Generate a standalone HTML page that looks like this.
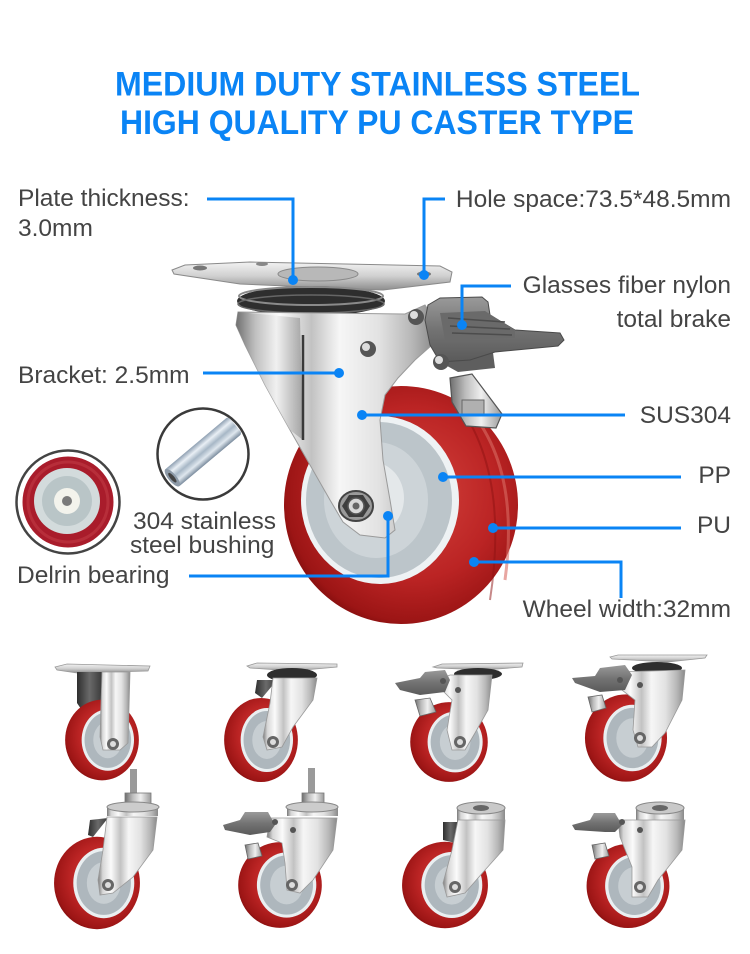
<!DOCTYPE html>
<html><head><meta charset="utf-8"><style>
html,body{margin:0;padding:0;background:#fff;}
svg{display:block;}
</style></head><body>
<svg width="750" height="954" viewBox="0 0 750 954" xmlns="http://www.w3.org/2000/svg">
<defs>
<linearGradient id="st" x1="0" y1="0" x2="1" y2="0">
<stop offset="0" stop-color="#7a7a7a"/><stop offset="0.08" stop-color="#d6d6d6"/><stop offset="0.22" stop-color="#fbfbfb"/><stop offset="0.38" stop-color="#c2c2c2"/><stop offset="0.52" stop-color="#f6f6f6"/><stop offset="0.72" stop-color="#e2e2e2"/><stop offset="0.88" stop-color="#b8b8b8"/><stop offset="1" stop-color="#8a8a8a"/>
</linearGradient>
<linearGradient id="stl" x1="0" y1="0" x2="1" y2="0">
<stop offset="0" stop-color="#6e6e6e"/><stop offset="0.3" stop-color="#bdbdbd"/><stop offset="0.6" stop-color="#efefef"/><stop offset="1" stop-color="#9a9a9a"/>
</linearGradient>
<linearGradient id="dk" x1="0" y1="0" x2="1" y2="0">
<stop offset="0" stop-color="#2e2e2e"/><stop offset="0.5" stop-color="#6a6a6a"/><stop offset="1" stop-color="#3a3a3a"/>
</linearGradient>
<linearGradient id="pl" x1="0" y1="0" x2="0" y2="1">
<stop offset="0" stop-color="#f2f2f2"/><stop offset="0.5" stop-color="#d0d0d0"/><stop offset="1" stop-color="#8e8e8e"/>
</linearGradient>
<radialGradient id="rd" cx="0.55" cy="0.45" r="0.6">
<stop offset="0" stop-color="#d4433d"/><stop offset="0.6" stop-color="#bb2424"/><stop offset="0.9" stop-color="#9c1515"/><stop offset="1" stop-color="#780b0b"/>
</radialGradient>
<linearGradient id="gr" x1="0" y1="0" x2="0" y2="1">
<stop offset="0" stop-color="#9a9a9a"/><stop offset="0.5" stop-color="#737373"/><stop offset="1" stop-color="#5a5a5a"/>
</linearGradient>
<linearGradient id="tube" x1="0" y1="0" x2="0" y2="1">
<stop offset="0" stop-color="#8fa0b2"/><stop offset="0.25" stop-color="#e9eff5"/><stop offset="0.5" stop-color="#a7b7c6"/><stop offset="0.75" stop-color="#dfe7ee"/><stop offset="1" stop-color="#7b8c9e"/>
</linearGradient>
<g id="sw">
<ellipse cx="0" cy="0" rx="38" ry="42" fill="url(#rd)"/>
<ellipse cx="6" cy="0" rx="27" ry="32" fill="#eaeff1"/>
<ellipse cx="6" cy="0" rx="24" ry="29" fill="#aeb7bd"/>
<ellipse cx="6" cy="0" rx="15" ry="19" fill="#c7ced2"/>
</g>
</defs>

<rect width="750" height="954" fill="#fff"/>

<!-- Title -->
<text x="115" y="95.5" font-family="Liberation Sans, Arial, sans-serif" font-weight="bold" font-size="34" fill="#0a84f5" textLength="525" lengthAdjust="spacingAndGlyphs">MEDIUM DUTY STAINLESS STEEL</text>
<text x="120" y="134" font-family="Liberation Sans, Arial, sans-serif" font-weight="bold" font-size="34" fill="#0a84f5" textLength="514" lengthAdjust="spacingAndGlyphs">HIGH QUALITY PU CASTER TYPE</text>

<!-- ===== Main caster ===== -->
<!-- plate -->
<polygon points="172,270 185,265 250,262 440,266 452,272 450,282 383,290 240,284 174,274" fill="url(#pl)" stroke="#8a8a8a" stroke-width="1"/>
<ellipse cx="200" cy="268" rx="7" ry="2.5" fill="#777"/>
<ellipse cx="262" cy="264" rx="6" ry="2" fill="#888"/>
<ellipse cx="424" cy="274" rx="7" ry="2.5" fill="#777"/>
<ellipse cx="318" cy="274" rx="40" ry="7" fill="#b8b8b8" stroke="#888"/>
<!-- swivel ring -->
<ellipse cx="311" cy="301" rx="74" ry="15" fill="#2e2e2e"/>
<ellipse cx="311" cy="296" rx="72" ry="9" fill="none" stroke="#8a8a8a" stroke-width="2"/>
<ellipse cx="311" cy="304" rx="73" ry="9" fill="none" stroke="#666" stroke-width="1.5"/>

<!-- wheel -->
<ellipse cx="401" cy="505" rx="117" ry="119" fill="url(#rd)"/>
<path d="M470,410 Q520,470 505,580" fill="none" stroke="#d86a62" stroke-width="3" opacity="0.6"/>
<path d="M455,400 Q510,470 490,600" fill="none" stroke="#8e1212" stroke-width="2" opacity="0.5"/>
<ellipse cx="380" cy="500" rx="79" ry="84" fill="#eef2f4"/>
<ellipse cx="379" cy="500" rx="73" ry="78" fill="#bcc5ca"/>
<ellipse cx="376" cy="500" rx="52" ry="58" fill="#cdd4d8"/>
<ellipse cx="372" cy="498" rx="32" ry="36" fill="#e4e8ea"/>

<!-- brake tab -->
<polygon points="450,378 472,374 502,414 496,428 466,426 452,402" fill="url(#stl)" stroke="#555" stroke-width="1.2"/>
<rect x="462" y="400" width="22" height="14" fill="#b0b0b0" stroke="#666" stroke-width="1"/>

<!-- bracket -->
<polygon points="238,312 405,314 425,305 435,320 432,345 415,360 398,378 385,395 380,420 383,460 390,500 395,530 385,538 360,535 343,522 330,500 310,465 290,430 265,385 245,345 236,325" fill="url(#st)" stroke="#9a9a9a" stroke-width="1"/>
<polygon points="238,312 300,318 303,440 290,430 265,385 245,345 236,325" fill="url(#stl)" opacity="0.85"/>
<line x1="303" y1="335" x2="303" y2="440" stroke="#3a3a3a" stroke-width="2.5"/>
<!-- nut -->
<ellipse cx="356" cy="506" rx="17" ry="15" fill="#9a9a9a" stroke="#444" stroke-width="2"/>
<polygon points="349,495 363,495 370,506 363,517 349,517 342,506" fill="#3e3e3e"/>
<circle cx="356" cy="506" r="8" fill="#d9d9d9" stroke="#555" stroke-width="1.5"/>
<circle cx="356" cy="506" r="3.5" fill="#666"/>

<!-- brake pedal -->
<polygon points="435,340 492,345 495,368 458,372 440,362" fill="#5e5e5e"/>
<polygon points="428,305 440,298 482,297 488,302 490,315 515,330 560,333 564,340 558,346 495,352 470,360 440,362 430,345 425,320" fill="url(#gr)" stroke="#4a4a4a" stroke-width="1"/>
<polygon points="440,313 485,311 515,330 515,338 445,340" fill="#6a6a6a"/>
<line x1="448" y1="318" x2="505" y2="322" stroke="#4c4c4c" stroke-width="1.5"/>
<line x1="450" y1="326" x2="510" y2="329" stroke="#4c4c4c" stroke-width="1.5"/>
<line x1="452" y1="333" x2="512" y2="335" stroke="#4c4c4c" stroke-width="1.5"/>

<!-- rivets -->
<circle cx="368" cy="349" r="8" fill="#555"/><circle cx="366" cy="347" r="4" fill="#ddd"/>
<circle cx="416" cy="317" r="8" fill="#555"/><circle cx="414" cy="315" r="4" fill="#ddd"/>
<circle cx="441" cy="362" r="8" fill="#555"/><circle cx="439" cy="360" r="4" fill="#ddd"/>

<!-- ===== Insets ===== -->
<circle cx="68" cy="502" r="51.5" fill="#fff" stroke="#444" stroke-width="2.5"/>
<circle cx="68" cy="502" r="45.5" fill="#a91c2b"/>
<circle cx="68" cy="502" r="40" fill="none" stroke="#c23a45" stroke-width="3" opacity="0.6"/>
<circle cx="67" cy="501" r="33" fill="#d3dbdc"/>
<circle cx="67" cy="501" r="25" fill="#b9c5c7"/>
<circle cx="67" cy="501" r="13" fill="#f3f3ec"/>
<circle cx="67" cy="501" r="5" fill="#7a7a7a"/>

<circle cx="203" cy="454" r="45.5" fill="#fff" stroke="#3a3a3a" stroke-width="2.5"/>
<g transform="rotate(-40 203 452)">
<rect x="161" y="441" width="84" height="22" rx="3" fill="url(#tube)"/>
<ellipse cx="163" cy="452" rx="4" ry="11" fill="#8d9aa8"/>
<ellipse cx="163" cy="452" rx="2" ry="6" fill="#444"/>
</g>

<!-- ===== Connectors ===== -->
<g fill="none" stroke="#0a84f5" stroke-width="3">
<path d="M207,199 H293 V280"/>
<path d="M445,199 H424 V275"/>
<path d="M511,286 H462 V325"/>
<path d="M203,373 H339"/>
<path d="M362,415 H625"/>
<path d="M443,477 H681"/>
<path d="M493,528 H681"/>
<path d="M474,562 H621 V598"/>
<path d="M189,576 H388 V516"/>
</g>
<g fill="#0a84f5">
<circle cx="293" cy="280" r="5"/>
<circle cx="424" cy="275" r="5"/>
<circle cx="462" cy="325" r="5"/>
<circle cx="339" cy="373" r="5"/>
<circle cx="362" cy="415" r="5"/>
<circle cx="443" cy="477" r="5"/>
<circle cx="493" cy="528" r="5"/>
<circle cx="474" cy="562" r="5"/>
<circle cx="388" cy="516" r="5"/>
</g>

<!-- ===== Labels ===== -->
<g font-family="Liberation Sans, Arial, sans-serif" font-size="24.5" fill="#444">
<text x="18" y="206">Plate thickness:</text>
<text x="18" y="236">3.0mm</text>
<text x="731" y="207" text-anchor="end">Hole space:73.5*48.5mm</text>
<text x="731" y="293" text-anchor="end">Glasses fiber nylon</text>
<text x="731" y="327" text-anchor="end">total brake</text>
<text x="18" y="383">Bracket: 2.5mm</text>
<text x="731" y="423" text-anchor="end">SUS304</text>
<text x="731" y="483" text-anchor="end">PP</text>
<text x="731" y="533" text-anchor="end">PU</text>
<text x="731" y="617" text-anchor="end">Wheel width:32mm</text>
<text x="133" y="529">304 stainless</text>
<text x="130" y="553">steel bushing</text>
<text x="17" y="583">Delrin bearing</text>
</g>

<!-- ===== Small casters ===== -->
<!-- 1 rigid -->
<polygon points="55,667 67,664 150,666 148,671 77,673 57,670" fill="url(#pl)" stroke="#999" stroke-width="0.8"/>
<polygon points="77,672 102,672 100,733 85,715 77,703" fill="url(#dk)"/>
<use href="#sw" transform="translate(102,740) scale(0.97,0.96)"/>
<polygon points="102,672 130,672 128,743 120,750 103,750 100,737" fill="url(#st)" stroke="#999" stroke-width="0.8"/>
<circle cx="113" cy="744" r="6" fill="#666"/><circle cx="113" cy="744" r="3" fill="#ddd"/>

<!-- 2 swivel -->
<polygon points="247,666 257,663 337,664 337,667 293,671 250,668" fill="url(#pl)" stroke="#999" stroke-width="0.8"/>
<ellipse cx="292" cy="675" rx="25" ry="7" fill="#2e2e2e"/>
<polygon points="257,680 277,680 262,698 255,693" fill="url(#dk)"/>
<use href="#sw" transform="translate(261,740) scale(0.97,1)"/>
<polygon points="273,678 317,678 313,700 293,727 282,747 267,750 263,737 270,703" fill="url(#st)" stroke="#999" stroke-width="0.8"/>
<circle cx="273" cy="742" r="6" fill="#666"/><circle cx="273" cy="742" r="3" fill="#ddd"/>

<!-- 3 swivel brake -->
<polygon points="433,667 442,664 523,663 522,667 485,670 437,668" fill="url(#pl)" stroke="#999" stroke-width="0.8"/>
<ellipse cx="478" cy="674" rx="24" ry="6" fill="#2e2e2e"/>
<use href="#sw" transform="translate(449,742) scale(1.02,0.95)"/>
<polygon points="415,700 430,698 436,712 420,716" fill="url(#stl)" stroke="#666" stroke-width="0.8"/>
<polygon points="438,680 450,675 492,675 488,710 475,733 465,750 452,750 447,730 452,700 442,690" fill="url(#st)" stroke="#999" stroke-width="0.8"/>
<polygon points="395,683 420,678 425,672 445,670 450,680 445,692 420,695 400,690" fill="url(#gr)"/>
<circle cx="443" cy="681" r="3" fill="#555"/><circle cx="458" cy="690" r="3" fill="#555"/>
<circle cx="460" cy="742" r="6" fill="#666"/><circle cx="460" cy="742" r="3" fill="#ddd"/>

<!-- 4 swivel total brake -->
<polygon points="610,657 618,655 707,655 705,658 668,662 612,659" fill="url(#pl)" stroke="#999" stroke-width="0.8"/>
<ellipse cx="657" cy="668" rx="25" ry="6" fill="#2e2e2e"/>
<use href="#sw" transform="translate(626,738) scale(1.08,1.04)"/>
<polygon points="588,697 602,695 606,708 592,712" fill="url(#stl)" stroke="#666" stroke-width="0.8"/>
<polygon points="615,672 685,670 682,700 665,733 652,747 638,747 633,730 635,700 618,687" fill="url(#st)" stroke="#999" stroke-width="0.8"/>
<polygon points="572,678 595,676 600,668 625,665 632,675 625,690 600,692 575,683" fill="url(#gr)"/>
<circle cx="620" cy="680" r="3" fill="#555"/><circle cx="640" cy="685" r="3" fill="#555"/>
<circle cx="640" cy="738" r="6" fill="#666"/><circle cx="640" cy="738" r="3" fill="#ddd"/>

<!-- 5 threaded stem -->
<rect x="130" y="769" width="7" height="25" fill="#9a9a9a"/>
<rect x="125" y="793" width="26" height="12" fill="url(#stl)" stroke="#777" stroke-width="0.8"/>
<rect x="107" y="806" width="51" height="10" fill="url(#st)"/>
<ellipse cx="133" cy="807" rx="26" ry="5" fill="#ccc" stroke="#888"/>
<polygon points="90,820 108,818 93,837 88,835" fill="url(#dk)"/>
<use href="#sw" transform="translate(97,883) scale(1.13,1.1)"/>
<polygon points="107,817 157,817 153,850 133,877 113,893 100,895 98,880 103,850" fill="url(#st)" stroke="#999" stroke-width="0.8"/>
<circle cx="108" cy="885" r="6" fill="#666"/><circle cx="108" cy="885" r="3" fill="#ddd"/>

<!-- 6 threaded stem brake -->
<rect x="308" y="768" width="7" height="25" fill="#9a9a9a"/>
<rect x="302" y="793" width="22" height="12" fill="url(#stl)" stroke="#777" stroke-width="0.8"/>
<rect x="287" y="806" width="51" height="10" fill="url(#st)"/>
<ellipse cx="312" cy="807" rx="26" ry="5" fill="#ccc" stroke="#888"/>
<use href="#sw" transform="translate(280,885) scale(1.1,1.02)"/>
<polygon points="245,845 258,843 262,856 248,859" fill="url(#stl)" stroke="#666" stroke-width="0.8"/>
<polygon points="270,818 337,818 333,850 313,880 300,893 287,890 285,863 282,843 267,837" fill="url(#st)" stroke="#999" stroke-width="0.8"/>
<polygon points="223,825 240,820 245,812 268,812 275,825 270,832 250,835 225,830" fill="url(#gr)"/>
<circle cx="275" cy="822" r="3" fill="#555"/><circle cx="293" cy="830" r="3" fill="#555"/>
<circle cx="292" cy="885" r="6" fill="#666"/><circle cx="292" cy="885" r="3" fill="#ddd"/>

<!-- 7 hollow kingpin -->
<rect x="457" y="808" width="48" height="14" fill="url(#st)"/>
<ellipse cx="481" cy="808" rx="24" ry="6" fill="#c9c9c9" stroke="#888"/>
<ellipse cx="481" cy="808" rx="8" ry="3" fill="#666"/>
<polygon points="443,822 458,822 455,843 443,840" fill="url(#dk)"/>
<use href="#sw" transform="translate(445,885) scale(1.13,1.03)"/>
<polygon points="458,820 505,820 503,850 485,870 465,893 447,897 443,883 452,850" fill="url(#st)" stroke="#999" stroke-width="0.8"/>
<circle cx="455" cy="887" r="6" fill="#666"/><circle cx="455" cy="887" r="3" fill="#ddd"/>

<!-- 8 hollow kingpin brake -->
<rect x="636" y="808" width="48" height="14" fill="url(#st)"/>
<ellipse cx="660" cy="808" rx="24" ry="6" fill="#c9c9c9" stroke="#888"/>
<ellipse cx="660" cy="808" rx="8" ry="3" fill="#666"/>
<use href="#sw" transform="translate(628,886) scale(1.09,1.0)"/>
<polygon points="592,845 605,843 609,856 595,859" fill="url(#stl)" stroke="#666" stroke-width="0.8"/>
<polygon points="618,820 685,820 682,850 658,880 648,897 632,897 632,867 620,837" fill="url(#st)" stroke="#999" stroke-width="0.8"/>
<polygon points="572,825 590,820 594,813 615,813 622,825 615,832 605,832 575,830" fill="url(#gr)"/>
<circle cx="622" cy="822" r="3" fill="#555"/><circle cx="640" cy="830" r="3" fill="#555"/>
<circle cx="640" cy="887" r="6" fill="#666"/><circle cx="640" cy="887" r="3" fill="#ddd"/>
</svg>
</body></html>
